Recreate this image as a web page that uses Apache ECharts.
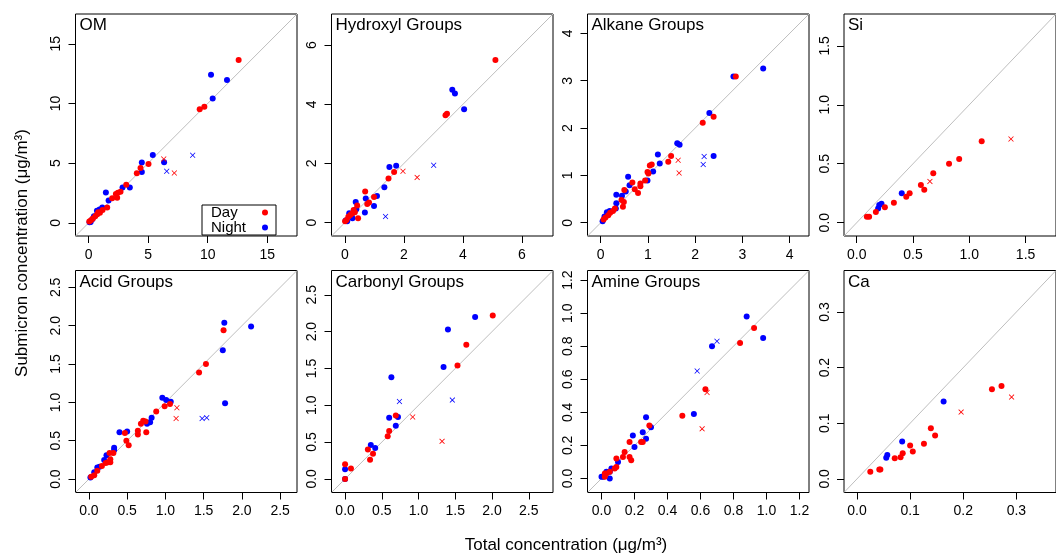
<!DOCTYPE html>
<html>
<head>
<meta charset="utf-8">
<script src="https://cdn.jsdelivr.net/npm/echarts@6/dist/echarts.min.js"></script>
<style>
  html, body { margin: 0; padding: 0; background: #fff; }
  #chart { width: 1056px; height: 554px; }
</style>
</head>
<body>
<div id="chart"></div>
<script>
// panel titles and axis ranges (same range on x and y, R style 1:1 plots)
const panelNames = ['OM', 'Hydroxyl Groups', 'Alkane Groups', 'Si', 'Acid Groups', 'Carbonyl Groups', 'Amine Groups', 'Ca']
const axisMin = [-1.1, -0.45, -0.28, -0.113, -0.175, -0.185, -0.085, -0.0245]
const axisMax = [17.5, 7.05, 4.41, 1.77, 2.72, 2.83, 1.258, 0.3746]
const tickValues = [
    [0, 5, 10, 15],
    [0, 2, 4, 6],
    [0, 1, 2, 3, 4],
    [0, 0.5, 1, 1.5],
    [0, 0.5, 1, 1.5, 2, 2.5],
    [0, 0.5, 1, 1.5, 2, 2.5],
    [0, 0.2, 0.4, 0.6, 0.8, 1, 1.2],
    [0, 0.1, 0.2, 0.3]
]
const tickDigits = [0, 0, 0, 1, 1, 1, 1, 1]

// [total, submicron]
const omDay = [[12.6, 13.65], [9.33, 9.53], [9.72, 9.73], [5.03, 4.93], [4.36, 4.6], [4.05, 4.15], [3.16, 3.2], [2.68, 2.6], [2.46, 2.52], [2.29, 2.41], [2.4, 2.1], [1.98, 2.07], [1.56, 1.29], [1.17, 1.07], [0.95, 0.84], [0.81, 0.9], [0.73, 0.73], [0.56, 0.56], [0.36, 0.36], [0.2, 0.22], [0.06, 0.11]]
const omNight = [[10.28, 12.42], [11.62, 11.97], [10.42, 10.43], [5.39, 5.69], [6.34, 5.07], [4.47, 5.05], [4.47, 4.26], [3.46, 2.97], [2.85, 2.97], [1.45, 2.55], [1.68, 1.88], [1.15, 1.29], [0.92, 1.12], [0.7, 1.01], [0.45, 0.56], [0.31, 0.31], [0.17, 0.08], [0.08, 0.06]]
const omDayOut = [[6.31, 5.35], [7.2, 4.18]]
const omNightOut = [[6.56, 4.32], [8.74, 5.66]]

const hydDay = [[5.1, 5.5], [3.46, 3.68], [3.41, 3.63], [1.67, 1.71], [1.48, 1.49], [0.69, 1.05], [0.99, 0.87], [0.82, 0.68], [0.76, 0.63], [0.42, 0.58], [0.45, 0.15], [0.34, 0.35], [0.26, 0.32], [0.19, 0.26], [0.12, 0.2], [0.06, 0.09], [0.01, 0.05], [0.3, 0.43]]
const hydNight = [[3.64, 4.49], [3.73, 4.36], [4.04, 3.83], [1.74, 1.92], [1.51, 1.88], [1.34, 1.2], [1.09, 0.9], [0.71, 0.82], [0.37, 0.7], [0.99, 0.56], [0.68, 0.34], [0.39, 0.45], [0.23, 0.26], [0.15, 0.32], [0.08, 0.05], [0.03, 0.07], [0.26, 0.15]]
const hydDayOut = [[1.97, 1.74], [2.45, 1.53]]
const hydNightOut = [[3.01, 1.94], [1.38, 0.21]]

const alkDay = [[2.86, 3.09], [2.39, 2.24], [2.16, 2.11], [1.49, 1.41], [1.43, 1.29], [1.08, 1.23], [1.04, 1.21], [0.99, 1.07], [1.01, 1.04], [0.94, 0.89], [0.84, 0.83], [0.84, 0.77], [0.67, 0.85], [0.72, 0.71], [0.79, 0.63], [0.5, 0.69], [0.49, 0.44], [0.44, 0.48], [0.47, 0.34], [0.3, 0.3], [0.26, 0.25], [0.2, 0.21], [0.16, 0.16], [0.1, 0.11], [0.06, 0.07]]
const alkNight = [[2.81, 3.09], [3.44, 3.26], [2.3, 2.32], [2.39, 1.41], [1.62, 1.68], [1.67, 1.65], [1.21, 1.44], [1.25, 1.25], [1.11, 1.08], [0.99, 0.89], [0.58, 0.97], [0.61, 0.79], [0.53, 0.66], [0.45, 0.57], [0.33, 0.59], [0.33, 0.41], [0.32, 0.3], [0.19, 0.25], [0.13, 0.22], [0.08, 0.13], [0.04, 0.03]]
const alkDayOut = [[1.64, 1.32], [1.66, 1.05]]
const alkNightOut = [[2.19, 1.4], [2.17, 1.23]]

const siDay = [[1.11, 0.69], [0.91, 0.54], [0.82, 0.5], [0.68, 0.42], [0.57, 0.32], [0.6, 0.28], [0.47, 0.25], [0.44, 0.22], [0.33, 0.17], [0.25, 0.13], [0.17, 0.09], [0.11, 0.05], [0.09, 0.05]]
const siNight = [[0.4, 0.25], [0.22, 0.16], [0.2, 0.15], [0.19, 0.12]]
const siDayOut = [[1.37, 0.71], [0.65, 0.35]]
const siNightOut = []

const acidDay = [[1.76, 1.94], [1.53, 1.5], [1.44, 1.39], [1.06, 0.98], [0.99, 0.95], [0.88, 0.88], [0.71, 0.76], [0.68, 0.72], [0.74, 0.75], [0.75, 0.61], [0.64, 0.63], [0.64, 0.58], [0.47, 0.6], [0.49, 0.5], [0.52, 0.44], [0.32, 0.34], [0.27, 0.34], [0.28, 0.26], [0.25, 0.22], [0.28, 0.22], [0.22, 0.21], [0.17, 0.17], [0.11, 0.11], [0.07, 0.05], [0.03, 0.03]]
const acidNight = [[1.77, 2.04], [2.12, 1.99], [1.75, 1.68], [1.78, 0.99], [0.96, 1.06], [1.01, 1.03], [1.07, 1.01], [0.82, 0.8], [0.8, 0.74], [0.76, 0.72], [0.4, 0.61], [0.5, 0.62], [0.33, 0.41], [0.33, 0.38], [0.23, 0.31], [0.2, 0.25], [0.14, 0.16], [0.11, 0.15], [0.07, 0.09], [0.02, 0.02]]
const acidDayOut = [[1.15, 0.93], [1.14, 0.79]]
const acidNightOut = [[1.48, 0.79], [1.54, 0.8]]

const carbDay = [[2.01, 2.22], [1.65, 1.82], [1.53, 1.54], [0.69, 0.86], [0.6, 0.65], [0.58, 0.58], [0.31, 0.4], [0.38, 0.34], [0.34, 0.26], [0.08, 0.14], [0.0, 0.2], [0.0, 0.0]]
const carbNight = [[1.77, 2.2], [1.4, 2.03], [1.34, 1.52], [0.63, 1.38], [0.6, 0.83], [0.72, 0.84], [0.69, 0.72], [0.35, 0.46], [0.41, 0.42], [0.0, 0.13], [0.0, 0.0]]
const carbDayOut = [[0.92, 0.84], [1.32, 0.51]]
const carbNightOut = [[0.74, 1.05], [1.46, 1.07]]

const amDay = [[0.925, 0.91], [0.84, 0.82], [0.63, 0.54], [0.49, 0.38], [0.25, 0.22], [0.24, 0.22], [0.29, 0.32], [0.17, 0.22], [0.17, 0.13], [0.18, 0.11], [0.14, 0.16], [0.13, 0.13], [0.09, 0.12], [0.09, 0.07], [0.08, 0.06], [0.05, 0.04], [0.03, 0.03], [0.02, 0.03], [0.02, 0.01]]
const amNight = [[0.88, 0.98], [0.98, 0.85], [0.67, 0.8], [0.56, 0.39], [0.27, 0.37], [0.25, 0.28], [0.19, 0.26], [0.27, 0.24], [0.3, 0.31], [0.2, 0.19], [0.1, 0.1], [0.06, 0.06], [0.05, 0.04], [0.03, 0.04], [0.01, 0.01], [0.05, 0.0], [0.0, 0.01]]
const amDayOut = [[0.64, 0.52], [0.61, 0.3]]
const amNightOut = [[0.7, 0.83], [0.58, 0.65]]

const caDay = [[0.272, 0.167], [0.254, 0.161], [0.139, 0.091], [0.147, 0.078], [0.126, 0.063], [0.1, 0.06], [0.105, 0.049], [0.086, 0.046], [0.082, 0.039], [0.071, 0.037], [0.044, 0.017], [0.042, 0.017], [0.025, 0.013]]
const caNight = [[0.163, 0.139], [0.085, 0.067], [0.057, 0.043], [0.055, 0.038]]
const caDayOut = [[0.196, 0.12], [0.291, 0.147]]
const caNightOut = []

const dayPoints = [omDay, hydDay, alkDay, siDay, acidDay, carbDay, amDay, caDay]
const nightPoints = [omNight, hydNight, alkNight, siNight, acidNight, carbNight, amNight, caNight]
const dayOut = [omDayOut, hydDayOut, alkDayOut, siDayOut, acidDayOut, carbDayOut, amDayOut, caDayOut]
const nightOut = [omNightOut, hydNightOut, alkNightOut, siNightOut, acidNightOut, carbNightOut, amNightOut, caNightOut]

const FONT = '"Liberation Sans", Arial, Helvetica, sans-serif'
const RED = '#ff0000'
const BLUE = '#0000ff'
const CROSS = 'path://M0,1L1,0L5,4L9,0L10,1L6,5L10,9L9,10L5,6L1,10L0,9L4,5Z'

const colLeft = [75.5, 331.5, 587.5, 844]
const rowTop = [14, 270.5]
const boxW = 221.5
const boxH = 222

let grids = []
let xAxes = []
let yAxes = []
let series = []
let graphics = []

panelNames.forEach((name, i) => {
    let left = colLeft[i % 4]
    let top = rowTop[Math.floor(i / 4)]
    grids.push({
        left: left, top: top, width: boxW, height: boxH,
        show: true, borderColor: '#000', borderWidth: 1, backgroundColor: 'transparent'
    })
    let fmt = v => Number(v).toFixed(tickDigits[i])
    let axisCommon = {
        gridIndex: i,
        type: 'value',
        min: axisMin[i],
        max: axisMax[i],
        axisLine: { show: false, onZero: false },
        splitLine: { show: false },
        axisTick: { show: true, length: 7, customValues: tickValues[i], lineStyle: { color: '#000', width: 1 } },
        axisLabel: { customValues: tickValues[i], formatter: fmt, color: '#000', fontSize: 14, fontFamily: FONT, margin: 12 }
    }
    xAxes.push(Object.assign({}, axisCommon, { position: 'bottom' }))
    yAxes.push(Object.assign({}, axisCommon, {
        position: 'left',
        axisLabel: Object.assign({}, axisCommon.axisLabel, { rotate: 90, margin: 12 })
    }))

    // 1:1 line
    series.push({
        type: 'line',
        xAxisIndex: i, yAxisIndex: i,
        data: [[axisMin[i], axisMin[i]], [axisMax[i], axisMax[i]]],
        showSymbol: false, silent: true,
        lineStyle: { color: '#bebebe', width: 1 },
        z: 1
    })
    series.push({
        name: 'Night', type: 'scatter', xAxisIndex: i, yAxisIndex: i,
        data: nightPoints[i], symbol: 'circle', symbolSize: 6,
        itemStyle: { color: BLUE, opacity: 1 }, z: 2
    })
    series.push({
        name: 'Day', type: 'scatter', xAxisIndex: i, yAxisIndex: i,
        data: dayPoints[i], symbol: 'circle', symbolSize: 6,
        itemStyle: { color: RED, opacity: 1 }, z: 3
    })
    series.push({
        name: 'Night excluded', type: 'scatter', xAxisIndex: i, yAxisIndex: i,
        data: nightOut[i], symbol: CROSS, symbolSize: 5.5,
        itemStyle: { color: BLUE, opacity: 1 }, z: 3
    })
    series.push({
        name: 'Day excluded', type: 'scatter', xAxisIndex: i, yAxisIndex: i,
        data: dayOut[i], symbol: CROSS, symbolSize: 5.5,
        itemStyle: { color: RED, opacity: 1 }, z: 3
    })

    graphics.push({
        type: 'text', left: left + 4, top: top + 3, z: 10,
        style: { text: name, font: '17px ' + FONT, fill: '#000' }
    })
})

graphics.push({
    type: 'text', x: 22, y: 253, rotation: Math.PI / 2,
    style: { text: 'Submicron concentration (μg/m³)', font: '17px ' + FONT, fill: '#000', textAlign: 'center', textVerticalAlign: 'middle' }
})
graphics.push({
    type: 'text', x: 566, y: 545,
    style: { text: 'Total concentration (μg/m³)', font: '17px ' + FONT, fill: '#000', textAlign: 'center', textVerticalAlign: 'middle' }
})

let option = {
    animation: false,
    backgroundColor: '#fff',
    textStyle: { fontFamily: FONT },
    grid: grids,
    xAxis: xAxes,
    yAxis: yAxes,
    legend: {
        data: ['Day', 'Night'],
        left: 202, top: 205,
        orient: 'vertical',
        align: 'right',
        icon: 'circle',
        itemWidth: 6, itemHeight: 6, itemGap: 0,
        padding: [0, 8, 0, 9],
        borderColor: '#000', borderWidth: 1, borderRadius: 0,
        backgroundColor: '#fff',
        selectedMode: false,
        formatter: '{a|{name}}',
        textStyle: {
            fontSize: 15, color: '#000', fontFamily: FONT,
            rich: { a: { width: 46, align: 'left', fontSize: 15, lineHeight: 14, fontFamily: FONT } }
        }
    },
    graphic: graphics,
    series: series
}

let chart = echarts.init(document.getElementById('chart'))
chart.setOption(option)
</script>
</body>
</html>
